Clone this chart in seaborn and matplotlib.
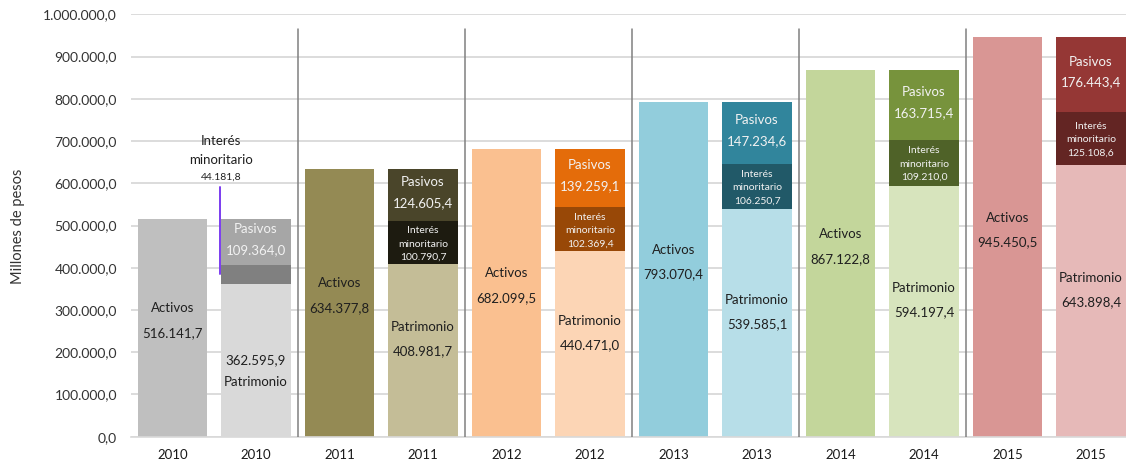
import numpy as np
import pandas as pd
import matplotlib
matplotlib.use("Agg")
import matplotlib.pyplot as plt
import seaborn as sns
from matplotlib.ticker import FuncFormatter, MultipleLocator

# ---------------- data ----------------
years = ["2010", "2011", "2012", "2013", "2014", "2015"]
activos = [516141.7, 634377.8, 682099.5, 793070.4, 867122.8, 945450.5]
patrimonio = [362595.9, 408981.7, 440471.0, 539585.1, 594197.4, 643898.4]
interes = [44181.8, 100790.7, 102369.4, 106250.7, 109210.0, 125108.6]
pasivos = [109364.0, 124605.4, 139259.1, 147234.6, 163715.4, 176443.4]

col_activos = ["#bfbfbf", "#948a54", "#fac090", "#92cddc", "#c3d69b", "#d99694"]
col_patrimonio = ["#d9d9d9", "#c4bd97", "#fcd5b5", "#b7dee8", "#d7e4bd", "#e6b9b8"]
col_interes = ["#808080", "#1d1b10", "#984807", "#215968", "#4f6228", "#632523"]
col_pasivos = ["#a6a6a6", "#4a452a", "#e46c0a", "#31859c", "#77933c", "#953735"]

lbl_activos = "Activos"
lbl_patrimonio = "Patrimonio"
lbl_interes = ["Interés", "minoritario"]
lbl_pasivos = "Pasivos"
ylabel = "Millones de pesos"


def fmt(v):
    s = f"{v:,.1f}"
    return s.replace(",", "X").replace(".", ",").replace("X", ".")


# ---------------- style ----------------
sns.set_style("white")
plt.rcParams["font.family"] = ["Lato", "DejaVu Sans"]

W, H = 1126, 470
fig = plt.figure(figsize=(W / 100, H / 100), dpi=100)
ax_left, ax_bottom_px, step = 130.75, 470 - 436.7, 83.5
xmax = 11.42
ax = fig.add_axes([ax_left / W, ax_bottom_px / H, (xmax + 0.5) * step / W, 422.4 / H])

n = len(years)
pos = np.arange(2 * n)
top_h, mid_h, low_h = [], [], []
top_c, mid_c, low_c = {}, {}, {}
for i in range(n):
    a, b = 2 * i, 2 * i + 1
    top_h += [activos[i], patrimonio[i] + interes[i] + pasivos[i]]
    mid_h += [0.0, patrimonio[i] + interes[i]]
    low_h += [0.0, patrimonio[i]]
    top_c[a], top_c[b] = col_activos[i], col_pasivos[i]
    mid_c[a], mid_c[b] = col_activos[i], col_interes[i]
    low_c[a], low_c[b] = col_activos[i], col_patrimonio[i]

for h, c in [(top_h, top_c), (mid_h, mid_c), (low_h, low_c)]:
    df = pd.DataFrame({"pos": pos, "val": h})
    sns.barplot(data=df, x="pos", y="val", hue="pos", palette=c, legend=False,
                width=0.83, saturation=1, errorbar=None, linewidth=0, ax=ax)

ax.set_xlim(-0.5, xmax)
ax.set_ylim(0, 1_000_000)
ax.yaxis.set_major_locator(MultipleLocator(100000))
ax.yaxis.set_major_formatter(FuncFormatter(lambda v, p: fmt(v)))
ax.grid(axis="y", color="#d9d9d9", linewidth=1.3, zorder=0)
ax.set_axisbelow(True)
for s in ["left", "right", "top"]:
    ax.spines[s].set_visible(False)
ax.spines["bottom"].set_color("#d9d9d9")
ax.spines["bottom"].set_linewidth(1.2)
ax.set_xticks(pos)
ax.set_xticklabels([years[k // 2] for k in pos])
ax.tick_params(axis="x", length=0, pad=9, labelsize=9.5, labelcolor="#1a1a1a")
ax.tick_params(axis="y", length=0, pad=10, labelsize=10, labelcolor="#333333")
ax.set_xlabel("")
ax.set_ylabel("")
fig.text(18 / W, 1 - 226 / H, ylabel, rotation=90, ha="center", va="center",
         fontsize=10.5, color="#333333")

# separators between years
for i in range(1, n):
    ax.plot([2 * i - 0.5, 2 * i - 0.5], [0, 964500], color="#808080", lw=1.1,
            zorder=3)

px = 1e6 / 422.4
dark = "#1f1f1f"
light = "#f2f2f2"
fs = 9.5
for i in range(n):
    a, b = 2 * i, 2 * i + 1
    # Activos
    yc = activos[i] / 2 + 7 * px
    ax.text(a, yc + 12.3 * px, lbl_activos, ha="center", va="center", fontsize=fs, color=dark)
    ax.text(a, yc - 12.3 * px, fmt(activos[i]), ha="center", va="center", fontsize=fs, color=dark)
    # Pasivos
    base = patrimonio[i] + interes[i]
    yc = base + pasivos[i] / 2 + 2.5 * px
    ax.text(b, yc + 10.5 * px, lbl_pasivos, ha="center", va="center", fontsize=fs, color=light)
    ax.text(b, yc - 10.5 * px, fmt(pasivos[i]), ha="center", va="center", fontsize=fs, color=light)
    # Patrimonio
    if i == 0:
        yc = patrimonio[i] / 2 - 11 * px
        ax.text(b, yc + 11 * px, fmt(patrimonio[i]), ha="center", va="center", fontsize=fs, color=dark)
        ax.text(b, yc - 11 * px, lbl_patrimonio, ha="center", va="center", fontsize=fs, color=dark)
    else:
        yc = patrimonio[i] / 2 + 11 * px
        ax.text(b, yc + 12 * px, lbl_patrimonio, ha="center", va="center", fontsize=fs, color=dark)
        ax.text(b, yc - 12 * px, fmt(patrimonio[i]), ha="center", va="center", fontsize=fs, color=dark)
    # Interés minoritario
    if i == 0:
        tot = base + pasivos[i]
        xl = b - 0.42
        ax.text(xl, tot + 78 * px, lbl_interes[0], ha="center", va="center", fontsize=9.5, color=dark)
        ax.text(xl, tot + 59 * px, lbl_interes[1], ha="center", va="center", fontsize=9.5, color=dark)
        ax.text(xl, tot + 41 * px, fmt(interes[i]), ha="center", va="center", fontsize=7.5, color=dark)
        ax.plot([b - 0.43, b - 0.43], [tot + 32 * px, patrimonio[i] + interes[i] * 0.5],
                color="#7b3cf0", lw=1.4, zorder=4)
    else:
        yc = patrimonio[i] + interes[i] / 2 - 1.5 * px
        ax.text(b, yc + 13.5 * px, lbl_interes[0], ha="center", va="center", fontsize=7.5, color=light)
        ax.text(b, yc, lbl_interes[1], ha="center", va="center", fontsize=7.5, color=light)
        ax.text(b, yc - 13.5 * px, fmt(interes[i]), ha="center", va="center", fontsize=7.5, color=light)

fig.savefig("out.png", dpi=100)
